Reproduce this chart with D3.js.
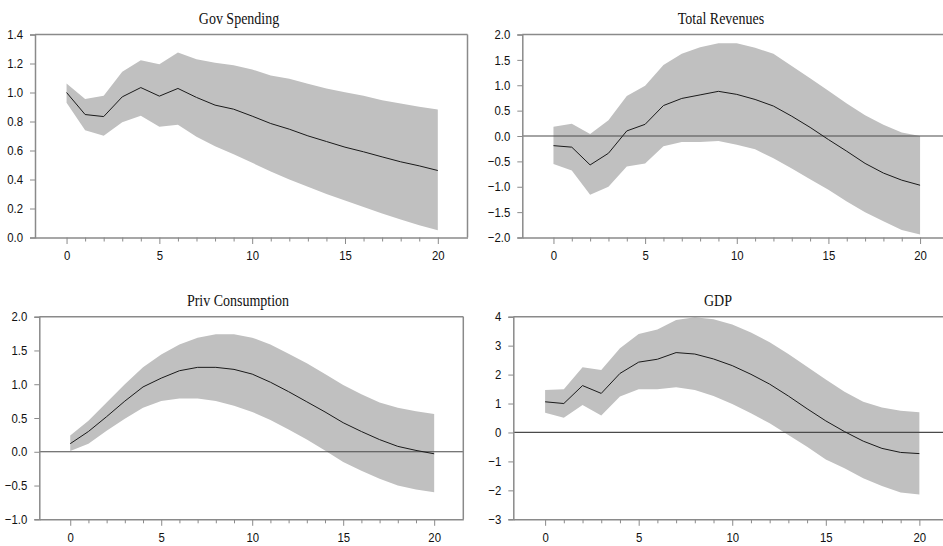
<!DOCTYPE html>
<html><head><meta charset="utf-8">
<script src="https://cdn.jsdelivr.net/npm/d3@7"></script>
<style>body{margin:0;background:#fff;overflow:hidden} svg{display:block}</style>
</head><body>
<svg id="c" width="943" height="546"></svg>
<script>
const horizons = [0,1,2,3,4,5,6,7,8,9,10,11,12,13,14,15,16,17,18,19,20];
const xTickLabels = [0,5,10,15,20];

const govMean  = [1.00,0.848,0.834,0.970,1.034,0.975,1.028,0.966,0.913,0.885,0.837,0.786,0.747,0.701,0.662,0.623,0.591,0.556,0.522,0.494,0.462];
const govUpper = [1.062,0.956,0.977,1.143,1.223,1.195,1.276,1.230,1.205,1.188,1.159,1.117,1.094,1.060,1.028,1.002,0.977,0.947,0.924,0.901,0.883];
const govLower = [0.929,0.740,0.701,0.795,0.839,0.763,0.777,0.694,0.630,0.575,0.515,0.455,0.400,0.350,0.300,0.255,0.210,0.165,0.125,0.085,0.050];

const revMean  = [-0.19,-0.22,-0.57,-0.34,0.10,0.23,0.60,0.74,0.81,0.88,0.82,0.72,0.59,0.39,0.17,-0.07,-0.30,-0.54,-0.73,-0.87,-0.97];
const revUpper = [0.18,0.24,0.04,0.31,0.79,0.99,1.40,1.62,1.75,1.83,1.83,1.74,1.62,1.38,1.14,0.89,0.64,0.41,0.22,0.07,0.00];
const revLower = [-0.55,-0.68,-1.16,-1.00,-0.60,-0.54,-0.20,-0.12,-0.12,-0.10,-0.17,-0.26,-0.44,-0.64,-0.85,-1.06,-1.29,-1.50,-1.68,-1.85,-1.94];

const consMean  = [0.12,0.30,0.52,0.75,0.96,1.09,1.20,1.25,1.25,1.22,1.15,1.03,0.89,0.74,0.59,0.43,0.30,0.18,0.08,0.02,-0.03];
const consUpper = [0.24,0.46,0.73,1.00,1.25,1.44,1.59,1.69,1.74,1.74,1.69,1.59,1.45,1.31,1.15,0.99,0.85,0.73,0.65,0.60,0.56];
const consLower = [0.01,0.12,0.31,0.49,0.65,0.75,0.79,0.79,0.75,0.68,0.59,0.47,0.33,0.18,0.02,-0.15,-0.28,-0.40,-0.50,-0.56,-0.60];

const gdpMean  = [1.06,1.00,1.62,1.35,2.04,2.43,2.53,2.76,2.71,2.54,2.31,2.01,1.67,1.26,0.82,0.40,0.03,-0.30,-0.55,-0.69,-0.73];
const gdpUpper = [1.47,1.49,2.25,2.16,2.91,3.40,3.56,3.89,3.98,3.91,3.73,3.45,3.12,2.71,2.27,1.83,1.41,1.06,0.86,0.75,0.70];
const gdpLower = [0.68,0.51,0.95,0.59,1.24,1.49,1.49,1.56,1.47,1.26,0.98,0.66,0.32,-0.09,-0.49,-0.93,-1.24,-1.58,-1.85,-2.07,-2.14];

const govYTicks  = [0.0,0.2,0.4,0.6,0.8,1.0,1.2,1.4];
const revYTicks  = [-2.0,-1.5,-1.0,-0.5,0.0,0.5,1.0,1.5,2.0];
const consYTicks = [-1.0,-0.5,0.0,0.5,1.0,1.5,2.0];
const gdpYTicks  = [-3,-2,-1,0,1,2,3,4];

const titles = ["Gov Spending","Total Revenues","Priv Consumption","GDP"];

const xDomain = [-1.7, 21.6];
const panels = [
  {title:titles[0], mean:govMean, upper:govUpper, lower:govLower, yTicks:govYTicks, fmt:".1f", zero:false,
   box:{l:35,r:467.5,t:34.5,b:237.5}, tx:239, ty:24},
  {title:titles[1], mean:revMean, upper:revUpper, lower:revLower, yTicks:revYTicks, fmt:".1f", zero:true,
   box:{l:522.3,r:949.4,t:34.5,b:237.5}, tx:721, ty:24},
  {title:titles[2], mean:consMean, upper:consUpper, lower:consLower, yTicks:consYTicks, fmt:".1f", zero:true,
   box:{l:39.3,r:463.3,t:316.7,b:519.3}, tx:238, ty:306},
  {title:titles[3], mean:gdpMean, upper:gdpUpper, lower:gdpLower, yTicks:gdpYTicks, fmt:"d", zero:true,
   box:{l:513.3,r:949.3,t:316.7,b:519.3}, tx:718, ty:306}
];

const svg = d3.select("#c");
const SX = 0.875;
const frameColor = "#8a8a8a";

panels.forEach(p => {
  const b = p.box;
  const x = d3.scaleLinear().domain(xDomain).range([b.l, b.r]);
  const yExt = d3.extent(p.yTicks);
  const y = d3.scaleLinear().domain(yExt).range([b.b, b.t]);
  const g = svg.append("g");

  // band
  const area = d3.area()
    .x((d,i) => x(horizons[i]))
    .y0((d,i) => y(p.lower[i]))
    .y1((d,i) => y(p.upper[i]));
  g.append("path").datum(p.mean).attr("d", area).attr("fill", "#c0c0c0");

  // zero line
  if (p.zero) {
    g.append("line").attr("x1", b.l).attr("x2", b.r)
      .attr("y1", y(0)).attr("y2", y(0))
      .attr("stroke", "#4a4a4a").attr("stroke-width", 1.2);
  }

  // mean line
  const line = d3.line().x((d,i) => x(horizons[i])).y(d => y(d));
  g.append("path").datum(p.mean).attr("d", line)
    .attr("fill", "none").attr("stroke", "#1a1a1a").attr("stroke-width", 1);

  // frame top & right
  g.append("line").attr("x1", b.l).attr("x2", b.r).attr("y1", b.t).attr("y2", b.t)
    .attr("stroke", frameColor).attr("stroke-width", 1.5);
  g.append("line").attr("x1", b.r).attr("x2", b.r).attr("y1", b.t).attr("y2", b.b)
    .attr("stroke", frameColor).attr("stroke-width", 1.5);

  // x axis
  const xa = g.append("g").attr("transform", `translate(0,${b.b})`)
    .call(d3.axisBottom(x).tickValues(horizons).tickSizeOuter(0)
      .tickFormat(d => xTickLabels.includes(d) ? d : ""));
  xa.select(".domain").attr("stroke", frameColor).attr("stroke-width", 1.5);
  xa.selectAll(".tick line").attr("stroke", frameColor).attr("stroke-width", 1)
    .attr("y2", d => xTickLabels.includes(d) ? 6.5 : 4);
  xa.selectAll(".tick text").attr("y", 13).attr("dy", "0.71em")
    .attr("font-family", "Liberation Sans, Arial, sans-serif").attr("font-size", 13)
    .attr("fill", "#111").attr("transform", `scale(${SX},1)`);

  // y axis
  const ya = g.append("g").attr("transform", `translate(${b.l},0)`)
    .call(d3.axisLeft(y).tickValues(p.yTicks).tickSizeOuter(0).tickSize(5)
      .tickFormat(d3.format(p.fmt)));
  ya.select(".domain").attr("stroke", frameColor).attr("stroke-width", 1.5);
  ya.selectAll(".tick line").attr("stroke", frameColor).attr("stroke-width", 1);
  ya.selectAll(".tick text").attr("x", -12 / SX)
    .attr("font-family", "Liberation Sans, Arial, sans-serif").attr("font-size", 13)
    .attr("fill", "#111").attr("transform", `scale(${SX},1)`);

  // title
  g.append("text").attr("transform", `translate(${p.tx},${p.ty}) scale(${SX},1)`)
    .attr("text-anchor", "middle")
    .attr("font-family", "Liberation Serif, Times New Roman, serif")
    .attr("font-size", 16).attr("fill", "#111")
    .text(p.title);
});
</script>
</body></html>
